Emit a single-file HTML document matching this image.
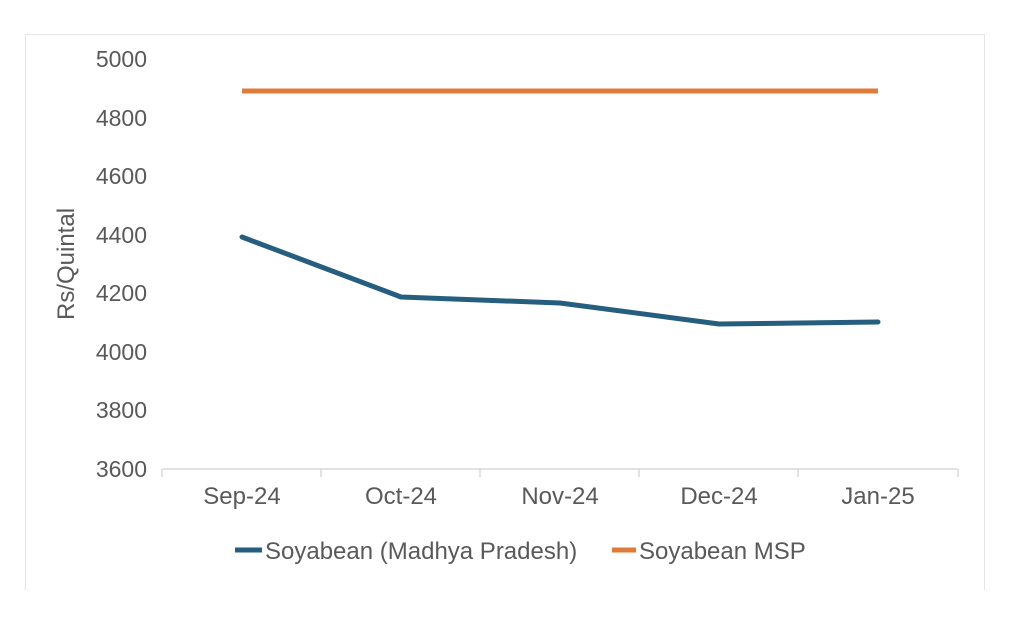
<!DOCTYPE html>
<html><head><meta charset="utf-8"><style>
body{margin:0;width:1016px;height:626px;background:#fff;overflow:hidden;font-family:"Liberation Sans",sans-serif;}
</style></head><body>
<svg width="1016" height="626" xmlns="http://www.w3.org/2000/svg" font-family="Liberation Sans, sans-serif">
<rect x="25.5" y="34.5" width="959" height="570" fill="#fff" stroke="#e6e6e6"/>
<rect x="0" y="590" width="1016" height="36" fill="#fff"/>
<g fill="#595959" font-size="23" text-anchor="end">
<text x="147" y="67">5000</text><text x="147" y="126">4800</text><text x="147" y="184">4600</text>
<text x="147" y="243">4400</text><text x="147" y="301">4200</text><text x="147" y="360">4000</text>
<text x="147" y="418">3800</text><text x="147" y="477">3600</text>
</g>
<text transform="translate(74,264) rotate(-90)" fill="#595959" font-size="24" text-anchor="middle">Rs/Quintal</text>
<g stroke="#d9d9d9" stroke-width="1.5">
<line x1="162" y1="469" x2="958" y2="469"/>
<line x1="162" y1="469" x2="162" y2="477"/><line x1="321" y1="469" x2="321" y2="477"/>
<line x1="480" y1="469" x2="480" y2="477"/><line x1="639" y1="469" x2="639" y2="477"/>
<line x1="798" y1="469" x2="798" y2="477"/><line x1="958" y1="469" x2="958" y2="477"/>
</g>
<g fill="#595959" font-size="24" text-anchor="middle">
<text x="242" y="504">Sep-24</text><text x="401" y="504">Oct-24</text><text x="560" y="504">Nov-24</text>
<text x="719" y="504">Dec-24</text><text x="878" y="504">Jan-25</text>
</g>
<line x1="242" y1="91" x2="878" y2="91" stroke="#e07b39" stroke-width="5"/>
<polyline points="242,237 401,297 560,303 719,324 878,322" fill="none" stroke="#255e7e" stroke-width="5" stroke-linejoin="round" stroke-linecap="round"/>
<line x1="235" y1="550" x2="262" y2="550" stroke="#255e7e" stroke-width="5"/>
<text x="265" y="559" fill="#595959" font-size="24">Soyabean (Madhya Pradesh)</text>
<line x1="612" y1="550" x2="636" y2="550" stroke="#e07b39" stroke-width="5"/>
<text x="639" y="559" fill="#595959" font-size="24">Soyabean MSP</text>
</svg>
</body></html>
